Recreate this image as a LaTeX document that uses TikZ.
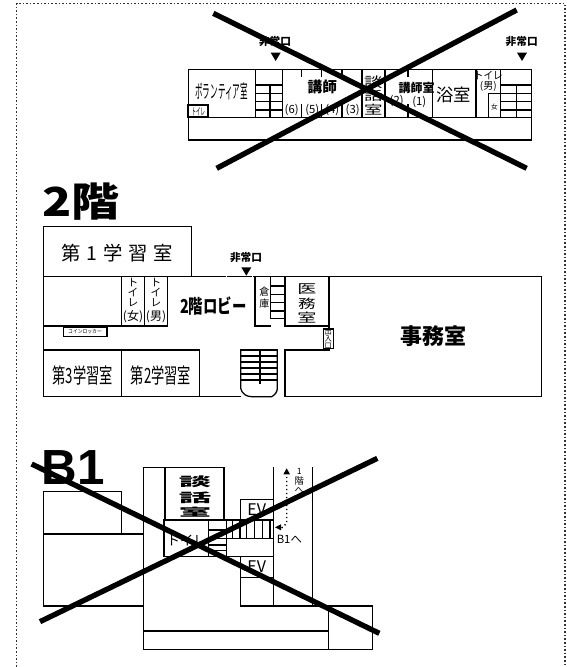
\documentclass[tikz,border=0pt]{standalone}
\usepackage{graphicx}
\usepackage{fontspec}
\setmainfont{Noto Sans CJK JP}
\newfontfamily\spaced[LetterSpace=30]{Noto Sans CJK JP}
\newfontfamily\latinb{Liberation Sans}
\newcommand{\fsz}[1]{\fontsize{#1}{#1}\selectfont}
\newcommand{\sq}[3]{\scalebox{#1}[#2]{#3}}
\tikzset{
  wall/.style={line width=.95pt,draw=black,line cap=rect},
  thickwall/.style={line width=1.5pt,draw=black},
  cross/.style={line width=4pt,draw=black},
  lab/.style={inner sep=0pt,outer sep=0pt,text=black,align=center},
  exitarrow/.style={fill=black,draw=none},
  frameline/.style={line width=.9pt,draw=black!80,dash pattern=on 1.2pt off 1.5pt},
}
\begin{document}
\begin{tikzpicture}[x=.75pt,y=-.75pt]
\useasboundingbox (0,0) rectangle (567,667);
\fill[white] (0,0) rectangle (567,667);
\draw[frameline] (16.5,667) -- (16.5,3.5) -- (565,3.5) -- (565,667);

%% ---------- top floor plan ----------
\begin{scope}[shift={(135pt,-7.5pt)},x=.25pt,y=-.25pt]
\draw[wall] (25,178) rectangle (1055,390);
\draw[wall] (25,322) -- (1055,322);
\foreach \xx in {227,307,546,615,757,888,962} \draw[wall] (\xx,178) -- (\xx,322);
\foreach \xx in {365,425,486,684} {\draw[wall] (\xx,178) -- (\xx,200); \draw[wall] (\xx,285) -- (\xx,322);}
\foreach \yy in {225,250,275,300} {\draw[wall] (227,\yy) -- (307,\yy); \draw[wall] (962,\yy) -- (1055,\yy);}
\draw[wall] (270,225) -- (270,322);
\draw[wall] (1010,225) -- (1010,322);
\draw[wall] (962,250) -- (925,250) -- (925,322);
\draw[thickwall] (25,285) rectangle (83,322);
\fill[exitarrow] (272,128) -- (302,128) -- (287,153) -- cycle;
\fill[exitarrow] (1011,128) -- (1041,128) -- (1026,153) -- cycle;
\node[lab] (ta) at (285,95) {\fsz{8}\bfseries 非常口};
\node[lab] (tb) at (1025,95) {\fsz{8}\bfseries 非常口};
\node[lab] (tc) at (125,245) {\sq{.42}{1.05}{\fsz{13.5}ボランティア室}};
\node[lab] (td) at (55,306) {\sq{.45}{1}{\fsz{7.5}トイレ}};
\node[lab] (te) at (427,232) {\fsz{11}\bfseries 講師};
\node[lab] (tf) at (335,300) {\fsz{8.5}(6)};
\node[lab] (tg) at (397,300) {\fsz{8.5}(5)};
\node[lab] (th) at (457,300) {\fsz{8.5}(4)};
\node[lab] (ti) at (518,300) {\fsz{8.5}(3)};
\node[lab] (tj) at (580,217) {\sq{1.2}{.9}{\fsz{11.5}談}};
\node[lab] (tk) at (580,258) {\sq{1.2}{.8}{\fsz{11.5}話}};
\node[lab] (tl) at (580,298) {\sq{1.2}{.8}{\fsz{11.5}室}};
\node[lab] (tm) at (710,235) {\fsz{9}\bfseries 講師室};
\node[lab] (tn) at (650,274) {\fsz{8.5}(2)};
\node[lab] (to) at (718,275) {\fsz{8.5}(1)};
\node[lab] (tp) at (820,255) {\fsz{13}浴室};
\node[lab] (tq) at (925,197) {\sq{.9}{1}{\fsz{8}トイレ}};
\node[lab] (tr) at (925,230) {\fsz{7.5}(男)};
\node[lab] (ts) at (943,290) {\fsz{5}女};
\draw[cross] (100,10) -- (1040,475);
\draw[cross] (1010,0) -- (110,475);
\end{scope}

%% ---------- 2nd floor ----------
\begin{scope}[shift={(22.5pt,-135pt)},x=.25pt,y=-.25pt]
\node[lab,anchor=center] (fa) at (152,65) {\sq{1.2}{1}{\fsz{30}\bfseries 2階}};
\draw[wall] (40,290) -- (40,140) -- (485,140) -- (485,290);
\draw[wall] (40,290) -- (586,290);
\draw[wall] (593,290) -- (664,290);
\draw[wall] (672,290) -- (1535,290) -- (1535,650) -- (765,650);
\draw[wall] (40,290) -- (40,650) -- (632,650);
\draw[wall] (40,438) -- (413,438);
\draw[wall] (40,510) -- (508,510) -- (508,650);
\draw[wall] (275,290) -- (275,438);
\draw[wall] (343,290) -- (343,438);
\draw[wall] (413,290) -- (413,438);
\draw[wall] (275,510) -- (275,650);
\draw[thickwall] (675,290) -- (675,438) -- (722,438);
\draw[wall] (722,290) -- (722,415) -- (765,415);
\foreach \yy in {318,343,368,393} \draw[wall] (722,\yy) -- (765,\yy);
\draw[wall] (765,290) -- (765,438) -- (897,438) ;
\draw[wall] (897,290) -- (897,448);
\draw[wall] (897,505) -- (897,510) -- (765,510) -- (765,650);
\draw[wall] (632,510) -- (742,510);
\foreach \yy in {528,546,564,582,600} \draw[wall] (632,\yy) -- (742,\yy);
\draw[wall] (632,510) -- (632,625) .. controls (636,642) and (650,650) .. (665,650) -- (725,650) .. controls (735,645) and (742,635) .. (742,625) -- (742,510);
\draw[thickwall] (689,510) -- (689,612);
\draw[wall,fill=white] (100,441) rectangle (231,470);
\draw[wall,fill=white] (880,447) rectangle (910,505);
\fill[exitarrow] (634,262) -- (664,262) -- (649,287) -- cycle;
\node[lab] (fb) at (648,232) {\fsz{8}\bfseries 非常口};
\node[lab] (fc) at (262,220) {\fsz{14.5}\spaced 第1学習室};
\node[lab,font=\fontsize{8}{7.5}\selectfont] (fd) at (309,338) {ト\\イ\\レ};
\node[lab,font=\fontsize{8}{7.5}\selectfont] (fe) at (378,338) {ト\\イ\\レ};
\node[lab] (ff) at (309,411) {\fsz{9}(女)};
\node[lab] (fg) at (378,411) {\fsz{9}(男)};
\node[lab] (fh) at (165,456) {\sq{.72}{.8}{\fsz{5}コインロッカー}};
\node[lab] (fi) at (550,378) {\sq{.9}{1.2}{\fsz{12}\bfseries 2階ロビー}};
\node[lab] (fj) at (703,335) {\fsz{7.5}倉};
\node[lab] (fk) at (703,372) {\fsz{7.5}庫};
\node[lab] (fl) at (831,326) {\sq{1.3}{.85}{\fsz{11}医}};
\node[lab] (fm) at (831,370) {\sq{1.2}{.85}{\fsz{11}務}};
\node[lab] (fn) at (831,412) {\sq{1.3}{.85}{\fsz{11}室}};
\node[lab,font=\fontsize{5.5}{5}\selectfont] (fo) at (895,476) {出\\入\\口};
\node[lab] (fp) at (158,585) {\sq{.66}{1.05}{\fsz{15}第3学習室}};
\node[lab] (fq) at (393,585) {\sq{.66}{1.05}{\fsz{15}第2学習室}};
\node[lab] (fr) at (1210,468) {\fsz{16.5}\bfseries 事務室};
\end{scope}

%% ---------- B1 ----------
\begin{scope}[shift={(15pt,-330pt)},x=.25pt,y=-.25pt]
\node[lab] (ba) at (160,84) {\fsz{37}\latinb\bfseries B1};
\draw[wall] (70,282) -- (70,155) -- (305,155) -- (305,282);
\draw[wall] (70,282) -- (370,282);
\draw[wall] (70,282) -- (70,498) -- (370,498);
\draw[wall] (370,82) -- (370,628) -- (1058,628) -- (1058,498) -- (662,498);
\draw[wall] (370,82) -- (612,82) -- (612,240);
\draw[wall] (435,82) -- (435,240);
\draw[wall] (432,240) -- (760,240);
\draw[wall] (432,240) -- (432,350) -- (760,350);
\draw[wall] (565,240) -- (565,350);
\draw[wall] (620,240) -- (620,350);
\draw[wall] (565,295) -- (760,295);
\foreach \yy in {270,315,332} \draw[wall] (565,\yy) -- (620,\yy);
\foreach \xx in {638,660,680,703,727,750} \draw[wall] (\xx,240) -- (\xx,295);
\draw[wall] (662,240) -- (662,178) -- (760,178);
\draw[wall] (662,350) -- (662,498);
\draw[wall] (662,412) -- (760,412);
\draw[wall] (760,82) -- (760,498);
\draw[wall] (877,82) -- (877,498);
\draw[wall] (370,573) -- (925,573);
\draw[wall] (925,498) -- (925,628);
\node[lab] (bb) at (525,125) {\sq{2.2}{.85}{\fsz{11}\bfseries 談}};
\node[lab] (bc) at (525,172) {\sq{2.2}{.85}{\fsz{11}\bfseries 話}};
\node[lab] (bd) at (525,216) {\sq{2.2}{.75}{\fsz{11}\bfseries 室}};
\node[lab] (be) at (500,300) {\fsz{10}トイレ};
\node[lab] (bf) at (710,210) {\fsz{12}EV};
\node[lab] (bg) at (710,380) {\fsz{12}EV};
\node[lab] (bh) at (838,94) {\fsz{6.5}1};
\node[lab] (bi) at (838,123) {\fsz{7}階};
\node[lab] (bj) at (838,150) {\fsz{7}へ};
\node[lab] (bk) at (808,298) {\fsz{8.5}B1へ};
\fill[exitarrow] (765,262) -- (783,253) -- (783,271) -- cycle;
\fill[exitarrow] (800,85) -- (790,103) -- (810,103) -- cycle;
\draw[line width=1pt,dotted] (785,264) -- (800,250) -- (800,103);
\draw[cross] (35,72) -- (1078,580);
\draw[cross] (60,545) -- (1072,55);
\end{scope}
\end{tikzpicture}
\end{document}
